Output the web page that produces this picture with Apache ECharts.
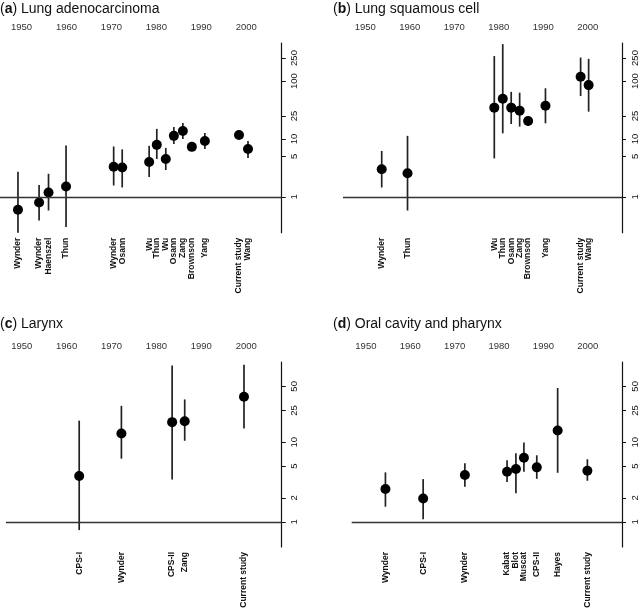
<!DOCTYPE html>
<html lang="en">
<head>
<meta charset="UTF-8">
<title>Odds ratios by study year</title>
<script src="https://cdn.jsdelivr.net/npm/echarts@6.0.0/dist/echarts.min.js"></script>
<style>
    html, body { margin: 0; padding: 0; background: #fff; }
    #chart { width: 640px; height: 608px; }
</style>
</head>
<body>
<div id="chart"></div>
<script>
    var FONT = '"Liberation Sans", Arial, Helvetica, sans-serif';

    // tick labels
    var yearTicks = [1950, 1960, 1970, 1980, 1990, 2000];
    var lungTicks = [1, 5, 10, 25, 100, 250];
    var otherTicks = [1, 2, 5, 10, 25, 50];

    // (a) lung adenocarcinoma
    var adenoNames = ['Wynder', 'Wynder', 'Haenszel', 'Thun', 'Wynder', 'Osann', 'Wu', 'Thun', 'Wu', 'Osann', 'Zang', 'Brownson', 'Yang', 'Current study', 'Wang'];
    var adenoYear = [1949.2, 1953.9, 1956.0, 1959.9, 1970.5, 1972.4, 1978.4, 1980.1, 1982.1, 1983.9, 1985.9, 1987.9, 1990.8, 1998.4, 2000.4];
    var adenoEst = [0.6, 0.8, 1.19, 1.51, 3.3, 3.2, 4.0, 7.9, 4.5, 11.3, 13.7, 7.3, 9.2, 11.7, 6.7];
    var adenoLo = [0.24, 0.39, 0.58, 0.30, 1.57, 1.45, 2.2, 4.5, 2.9, 8.2, 10.0, 6.8, 6.7, 10.0, 4.7];
    var adenoHi = [2.7, 1.6, 2.5, 7.7, 7.4, 6.6, 7.6, 14.9, 7.0, 16.1, 18.9, 7.8, 12.7, 13.7, 9.2];

    // (b) lung squamous cell
    var squamNames = ['Wynder', 'Thun', 'Wu', 'Thun', 'Osann', 'Zang', 'Brownson', 'Yang', 'Current study', 'Wang'];
    var squamYear = [1953.7, 1959.5, 1979.0, 1980.9, 1982.8, 1984.7, 1986.6, 1990.5, 1998.4, 2000.2];
    var squamEst = [3.0, 2.56, 34.7, 49.5, 34.7, 30.8, 20.4, 37.5, 119, 85];
    var squamLo = [1.45, 0.58, 4.6, 12.5, 18.1, 16.3, 16.7, 18.6, 55, 29.6];
    var squamHi = [6.2, 11.3, 270, 434, 65, 63, 25, 75, 255, 242];

    // (c) larynx
    var larynxNames = ['CPS-I', 'Wynder', 'CPS-II', 'Zang', 'Current study'];
    var larynxYear = [1962.8, 1972.2, 1983.5, 1986.3, 1999.5];
    var larynxEst = [3.76, 12.8, 17.8, 18.3, 37.0];
    var larynxLo = [0.79, 6.2, 3.4, 10.4, 14.8];
    var larynxHi = [18.6, 28.5, 91.6, 34.3, 93.5];

    // (d) oral cavity and pharynx
    var oralNames = ['Wynder', 'CPS-I', 'Wynder', 'Kabat', 'Blot', 'Muscat', 'CPS-II', 'Hayes', 'Current study'];
    var oralYear = [1954.4, 1962.9, 1972.3, 1981.8, 1983.8, 1985.6, 1988.5, 1993.2, 1999.9];
    var oralEst = [2.58, 1.97, 3.87, 4.25, 4.6, 6.38, 4.83, 14.0, 4.38];
    var oralLo = [1.55, 1.08, 2.76, 3.16, 2.28, 4.26, 3.47, 4.13, 3.28];
    var oralHi = [4.18, 3.44, 5.42, 5.92, 7.25, 9.86, 6.84, 47.7, 6.1];

    var panels = [
        { tag: 'a', label: 'Lung adenocarcinoma', names: adenoNames, year: adenoYear, est: adenoEst, lo: adenoLo, hi: adenoHi,
          ticks: lungTicks, yMin: 0.24, yMax: 454, xMin: 1945.2, xMax: 2007.9,
          grid: { left: 0, top: 43, width: 281.7, height: 189.7 }, titleAt: [0, 2] },
        { tag: 'b', label: 'Lung squamous cell', names: squamNames, year: squamYear, est: squamEst, lo: squamLo, hi: squamHi,
          ticks: lungTicks, yMin: 0.24, yMax: 454, xMin: 1945.0, xMax: 2007.7,
          grid: { left: 343, top: 43, width: 281.5, height: 189.7 }, titleAt: [333, 2] },
        { tag: 'c', label: 'Larynx', names: larynxNames, year: larynxYear, est: larynxEst, lo: larynxLo, hi: larynxHi,
          ticks: otherTicks, yMin: 0.485, yMax: 101, xMin: 1946.5, xMax: 2007.9,
          grid: { left: 6, top: 362, width: 275.7, height: 185 }, titleAt: [0, 317] },
        { tag: 'd', label: 'Oral cavity and pharynx', names: oralNames, year: oralYear, est: oralEst, lo: oralLo, hi: oralHi,
          ticks: otherTicks, yMin: 0.485, yMax: 101, xMin: 1946.8, xMax: 2007.7,
          grid: { left: 351.7, top: 362, width: 273.3, height: 185 }, titleAt: [333, 317] }
    ];

    var option = {
        animation: false,
        backgroundColor: '#fff',
        textStyle: { fontFamily: FONT },
        title: [], grid: [], xAxis: [], yAxis: [], series: []
    };

    panels.forEach(function (p, i) {
        option.title.push({
            text: '({b|' + p.tag + '}) ' + p.label,
            left: p.titleAt[0], top: p.titleAt[1], padding: 0,
            textStyle: {
                fontFamily: FONT, fontSize: 14, fontWeight: 'normal', color: '#111',
                rich: { b: { fontFamily: FONT, fontSize: 14, fontWeight: 'bold', color: '#111' } }
            }
        });
        option.grid.push(p.grid);
        option.xAxis.push({
            gridIndex: i, type: 'value', position: 'top', min: p.xMin, max: p.xMax,
            axisLine: { show: false }, axisTick: { show: false }, splitLine: { show: false },
            axisLabel: {
                customValues: yearTicks, margin: 11, fontSize: 9.5, color: '#333', fontFamily: FONT,
                formatter: function (v) { return String(v); }
            }
        });
        option.yAxis.push({
            gridIndex: i, type: 'log', logBase: 10, position: 'right', min: p.yMin, max: p.yMax,
            splitLine: { show: false },
            axisLine: { show: true, lineStyle: { color: '#111', width: 1.2 } },
            axisTick: { show: true, length: 4, customValues: p.ticks, lineStyle: { color: '#111', width: 1 } },
            axisLabel: {
                customValues: p.ticks, rotate: 90, margin: 8, fontSize: 9.5, color: '#111', fontFamily: FONT,
                formatter: function (v) { return String(Math.round(v)); }
            }
        });

        var names = p.names;
        // confidence intervals and study names
        option.series.push({
            type: 'custom', xAxisIndex: i, yAxisIndex: i,
            data: names.map(function (n, k) { return [p.year[k], p.est[k], p.lo[k], p.hi[k]]; }),
            renderItem: function (params, api) {
                var x = api.value(0);
                var top = api.coord([x, api.value(3)]);
                var bot = api.coord([x, api.value(2)]);
                var cs = params.coordSys;
                return {
                    type: 'group',
                    children: [
                        { type: 'line', shape: { x1: top[0], y1: top[1], x2: bot[0], y2: bot[1] },
                          style: { stroke: '#222', lineWidth: 1.7 } },
                        { type: 'text', x: top[0], y: cs.y + cs.height + 5, rotation: Math.PI / 2,
                          style: { text: names[params.dataIndex], align: 'right', verticalAlign: 'middle',
                                   font: 'bold 8.5px ' + FONT, fill: '#111' } }
                    ]
                };
            }
        });
        // point estimates + reference line at 1
        option.series.push({
            type: 'scatter', xAxisIndex: i, yAxisIndex: i, z: 3,
            symbol: 'circle', symbolSize: 10,
            itemStyle: { color: '#000', opacity: 1 },
            data: names.map(function (n, k) { return [p.year[k], p.est[k]]; }),
            markLine: {
                silent: true, symbol: ['none', 'none'], label: { show: false },
                lineStyle: { color: '#333', width: 1.3, type: 'solid' },
                data: [{ yAxis: 1 }]
            }
        });
    });

    var chart = echarts.init(document.getElementById('chart'), null, { renderer: 'canvas' });
    chart.setOption(option);
</script>
</body>
</html>
